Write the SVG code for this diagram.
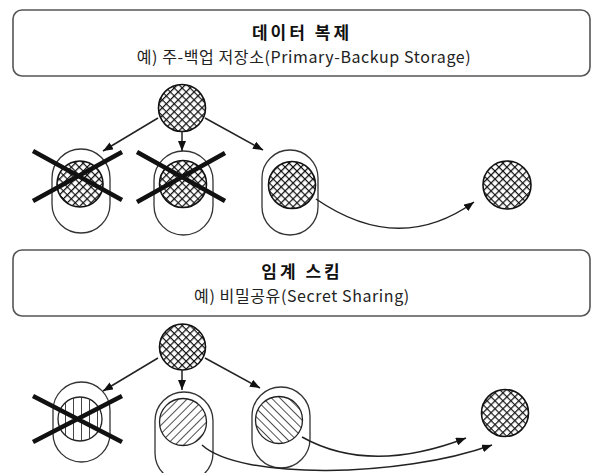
<svg xmlns="http://www.w3.org/2000/svg" width="604" height="473" viewBox="0 0 604 473">
<style>
.box{fill:#fff;stroke:#555;stroke-width:1.6}
.title{font-family:"Noto Sans CJK KR","Noto Sans",sans-serif;font-weight:700;font-size:17px;fill:#111;text-anchor:middle}
.sub{font-family:"Noto Sans CJK KR","Noto Sans",sans-serif;font-size:16px;fill:#222;text-anchor:middle}
.cap{fill:#fff;stroke:#333;stroke-width:1.3}
.cross{fill:url(#xh);stroke:#111;stroke-width:1.6}
.fw{fill:url(#fwd);stroke:#222;stroke-width:1.3}
.bw{fill:url(#bwd);stroke:#222;stroke-width:1.3}
.vt{fill:url(#vert);stroke:#222;stroke-width:1.3}
.x{stroke:#111;stroke-width:4.5;stroke-linecap:butt}
.arr{fill:none;stroke:#222;stroke-width:1.5;marker-end:url(#ah)}
</style>
<defs>
<pattern id="xh" patternUnits="userSpaceOnUse" width="5.6" height="5.6" patternTransform="rotate(45)">
<rect width="5.6" height="5.6" fill="#fff"/>
<path d="M0 0H5.6M0 0V5.6" stroke="#111" stroke-width="2.5"/>
</pattern>
<pattern id="fwd" patternUnits="userSpaceOnUse" width="6" height="6" patternTransform="rotate(45)">
<rect width="6" height="6" fill="#fff"/>
<path d="M0 0V6" stroke="#222" stroke-width="1.6"/>
</pattern>
<pattern id="bwd" patternUnits="userSpaceOnUse" width="6" height="6" patternTransform="rotate(-45)">
<rect width="6" height="6" fill="#fff"/>
<path d="M0 0V6" stroke="#222" stroke-width="1.6"/>
</pattern>
<pattern id="vert" patternUnits="userSpaceOnUse" width="8" height="8" x="1">
<rect width="8" height="8" fill="#fff"/>
<path d="M0 0V8" stroke="#222" stroke-width="1.7"/>
</pattern>
<marker id="ah" viewBox="0 0 10 8" refX="10" refY="4" markerWidth="10" markerHeight="8" markerUnits="userSpaceOnUse" orient="auto">
<path d="M0 0L10 4L0 8Z" fill="#111"/>
</marker>
</defs>
<rect width="604" height="473" fill="#fff"/>

<g id="header1">
<rect class="box" x="13" y="10" width="577" height="66" rx="9"/>
<text class="title" x="302" y="39" letter-spacing="3">데이터 복제</text>
<text class="sub" x="304" y="63" letter-spacing="0.6">예) 주-백업 저장소(Primary-Backup Storage)</text>
</g>

<g id="source1"><circle class="cross" cx="182" cy="108" r="23.5"/></g>
<g id="replica1"><rect class="cap" x="52" y="149" width="58" height="84" rx="29"/><circle class="cross" cx="80" cy="184" r="23"/></g>
<g id="replica2"><rect class="cap" x="154" y="151" width="59" height="84" rx="29.5"/><circle class="cross" cx="183" cy="184" r="23.5"/></g>
<g id="replica3"><rect class="cap" x="262" y="150" width="56" height="85" rx="28"/><circle class="cross" cx="292" cy="185" r="23.5"/></g>
<g id="result1"><circle class="cross" cx="507" cy="185" r="24"/></g>

<g id="failures1">
<path class="x" d="M33 151L122 200M33 201L122 152"/>
<path class="x" d="M137 152L225 201M137 202L225 153"/>
</g>

<g id="header2">
<rect class="box" x="13" y="250" width="577" height="66" rx="9"/>
<text class="title" x="302" y="278" letter-spacing="3">임계 스킴</text>
<text class="sub" x="302" y="302" letter-spacing="0.6">예) 비밀공유(Secret Sharing)</text>
</g>

<g id="source2"><circle class="cross" cx="182.5" cy="347" r="23"/></g>
<g id="share1"><rect class="cap" x="53" y="382" width="57" height="80" rx="28.5"/><circle class="vt" cx="80" cy="419" r="22"/></g>
<g id="share2"><rect class="cap" x="155" y="392" width="58" height="90" rx="29"/><circle class="fw" cx="183" cy="422" r="23.5"/></g>
<g id="share3"><rect class="cap" x="252" y="387" width="58" height="81" rx="29"/><circle class="bw" cx="279" cy="420" r="23.5"/></g>
<g id="result2"><circle class="cross" cx="505" cy="413" r="23.5"/></g>

<g id="failures2">
<path class="x" d="M33 396L122 442M33 442L122 396"/>
</g>

<g id="connectors">
<path class="arr" d="M158 118L103 151"/>
<path class="arr" d="M182 131V151"/>
<path class="arr" d="M205 118L263 150"/>
<path class="arr" d="M316 199Q399 256 474 202"/>
<path class="arr" d="M158 358L103 391"/>
<path class="arr" d="M182 370V390"/>
<path class="arr" d="M205 358L260 388"/>
<path class="arr" d="M302 437Q370 475 466 438"/>
<path class="arr" d="M202 445C240 480 400 478 492 445"/>
</g>
</svg>
